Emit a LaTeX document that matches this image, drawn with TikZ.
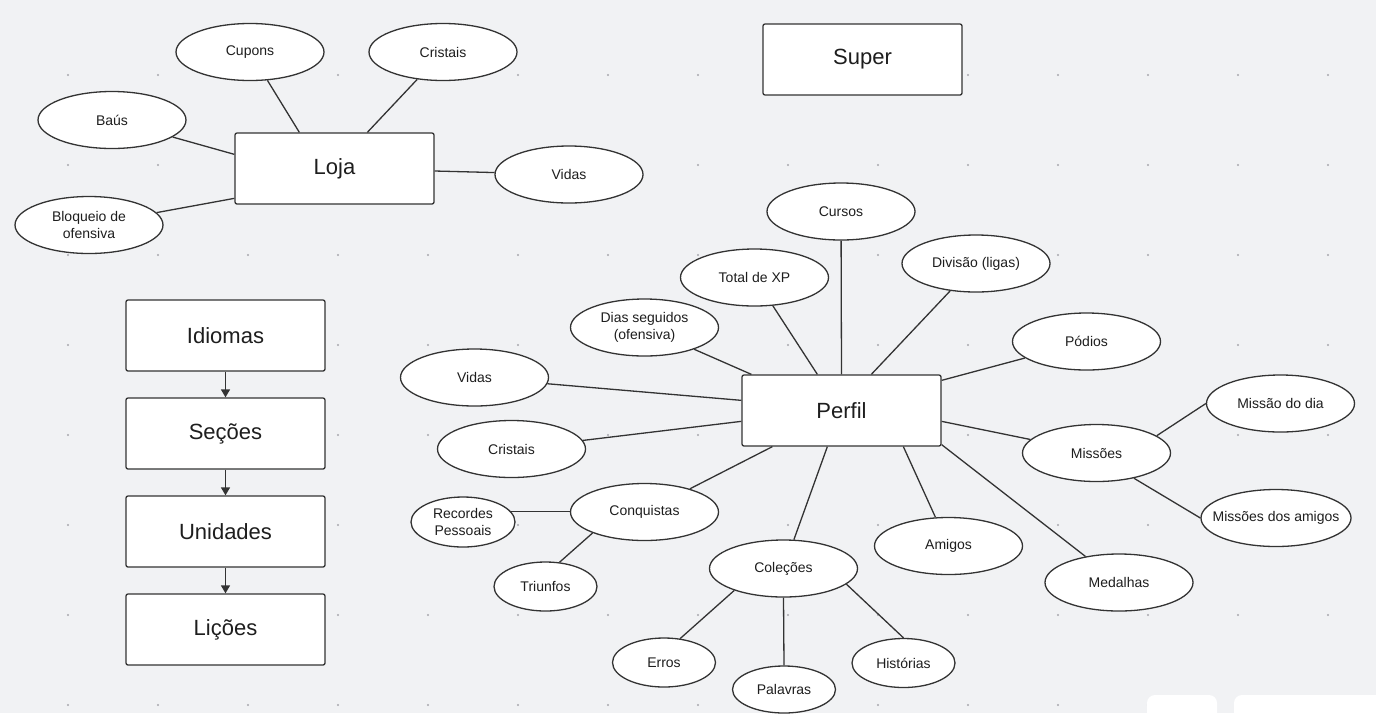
\documentclass[tikz,border=0pt]{standalone}
\usepackage{fontspec}
\setmainfont{Liberation Sans}
\usetikzlibrary{shapes.geometric,arrows.meta}
\definecolor{bg}{RGB}{241,242,244}
\definecolor{ln}{RGB}{51,51,51}
\definecolor{dotc}{RGB}{168,168,174}
\definecolor{tx}{RGB}{30,30,30}
\begin{document}
\begin{tikzpicture}[x=1pt,y=-1pt,
  ell/.style={ellipse,draw=ln,fill=white,line width=1.3pt,minimum width=148pt,minimum height=57pt,inner sep=0pt,font=\fontsize{14}{16.5}\selectfont,align=center,text=tx},
  sell/.style={ell,minimum width=103pt,minimum height=49pt},
  box/.style={rectangle,rounded corners=2pt,draw=ln,fill=white,line width=1.3pt,minimum width=199pt,minimum height=71pt,inner sep=0pt,font=\fontsize{22}{26}\selectfont,text=tx},
  conn/.style={draw=ln,line width=1.3pt},
  arr/.style={conn,-{Triangle[length=8pt,width=9pt]}}]
\fill[bg] (0,0) rectangle (1376,713);
\useasboundingbox (0,0) rectangle (1376,713);
\clip (0,0) rectangle (1376,713);
\foreach \x in {68,158,...,1330} \foreach \y in {75,165,...,710} \fill[dotc] (\x,\y) circle (1.2pt);
\fill[white,rounded corners=8pt] (1147,695) rectangle (1217,730);
\fill[white,rounded corners=8pt] (1234,695) rectangle (1400,730);

% boxes
\node[box] (super) at (862.5,59.5) {Super};
\node[box] (loja) at (334.5,168.5) {Loja};
\node[box] (idiomas) at (225.5,335.5) {Idiomas};
\node[box] (secoes) at (225.5,433.5) {Seções};
\node[box] (unidades) at (225.5,531.5) {Unidades};
\node[box] (licoes) at (225.5,629.5) {Lições};
\node[box] (perfil) at (841.5,410.5) {Perfil};

% Loja ellipses
\node[ell] (cupons) at (250,52) {Cupons};
\node[ell] (cristaisA) at (443,52) {Cristais};
\node[ell] (baus) at (112,120) {Baús};
\node[ell] (vidasA) at (569,174.5) {Vidas};
\node[ell] (bloqueio) at (89,225) {Bloqueio de\\ofensiva};

% Perfil ellipses
\node[ell] (cursos) at (841,211.5) {Cursos};
\node[ell] (totalxp) at (754.5,277.5) {Total de XP};
\node[ell] (divisao) at (976,263.5) {Divisão (ligas)};
\node[ell] (dias) at (644.5,327.5) {Dias seguidos\\(ofensiva)};
\node[ell] (podios) at (1086.5,341.5) {Pódios};
\node[ell] (vidasB) at (474.5,377.5) {Vidas};
\node[ell] (missaodia) at (1280.5,403.5) {Missão do dia};
\node[ell] (cristaisB) at (511.5,449) {Cristais};
\node[ell] (missoes) at (1096.5,453) {Missões};
\node[sell,minimum width=104pt,minimum height=50pt] (recordes) at (463,522) {Recordes\\Pessoais};
\node[ell] (conquistas) at (644.5,512) {Conquistas};
\node[ell,minimum width=150pt,inner xsep=-20pt] (missoesamigos) at (1276,518) {Missões dos amigos};
\node[ell] (amigos) at (948.5,546) {Amigos};
\node[sell] (triunfos) at (545.5,586.5) {Triunfos};
\node[ell] (colecoes) at (783.5,568.5) {Coleções};
\node[ell] (medalhas) at (1119,582.5) {Medalhas};
\node[sell] (erros) at (664,662.5) {Erros};
\node[sell,minimum height=47pt] (palavras) at (784,689.5) {Palavras};
\node[sell] (historias) at (903.5,663) {Histórias};

% chain arrows
\draw[arr] (idiomas) -- (secoes);
\draw[arr] (secoes) -- (unidades);
\draw[arr] (unidades) -- (licoes);

% Loja connectors
\draw[conn] (cupons) -- ([xshift=65pt]loja.north west);
\draw[conn] (cristaisA) -- ([xshift=133pt]loja.north west);
\draw[conn] (baus) -- ([yshift=-22pt]loja.north west);
\draw[conn] (bloqueio) -- ([yshift=-66pt]loja.north west);
\draw[conn] (vidasA) -- ([yshift=-2.5pt]loja.east);

% Perfil connectors
\draw[conn] (cursos) -- (perfil.north);
\draw[conn] (totalxp) -- ([xshift=76pt]perfil.north west);
\draw[conn] (divisao) -- ([xshift=130pt]perfil.north west);
\draw[conn] (dias) -- ([xshift=10pt]perfil.north west);
\draw[conn] (podios) -- ([yshift=-6pt]perfil.north east);
\draw[conn] (vidasB) -- ([yshift=-26pt]perfil.north west);
\draw[conn] (cristaisB) -- ([yshift=-47pt]perfil.north west);
\draw[conn] (missoes) -- ([yshift=-47pt]perfil.north east);
\draw[conn] (conquistas) -- ([xshift=31pt]perfil.south west);
\draw[conn] (colecoes) -- ([xshift=86pt]perfil.south west);
\draw[conn] (amigos) -- ([xshift=162pt]perfil.south west);
\draw[conn] (medalhas) -- ([yshift=2pt]perfil.south east);

% Missoes children
\draw[conn] (missoes.16) -- (missaodia.west);
\draw[conn] (missoes.-34) -- (missoesamigos.west);

% Conquistas children
\draw[conn] (recordes.12) -- (recordes.12 -| conquistas.west);
\draw[conn] (conquistas.202) -- (triunfos.60);

% Colecoes children
\draw[conn] (colecoes.204) -- (erros.56);
\draw[conn] (colecoes.south) -- (palavras.north);
\draw[conn] (colecoes.-14) -- (historias.north);
\end{tikzpicture}
\end{document}
